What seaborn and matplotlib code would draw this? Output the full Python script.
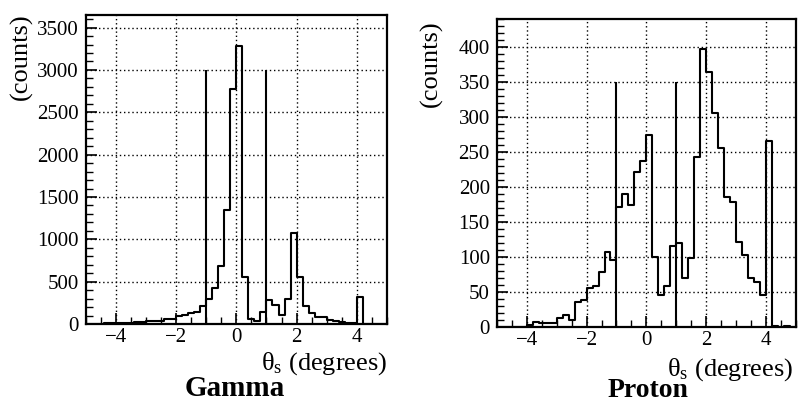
import numpy as np
import pandas as pd
import matplotlib
matplotlib.use("Agg")
import matplotlib.pyplot as plt
import seaborn as sns
from matplotlib.ticker import MultipleLocator

# histogram binning: 50 bins of 0.2 degree between -5 and 5
bin_edges = np.linspace(-5, 5, 51)
bin_centers = (bin_edges[:-1] + bin_edges[1:]) / 2

# counts, left to right
gamma_counts = [5, 3, 5, 8, 10, 12, 15, 15, 18, 20,
                30, 35, 40, 65, 60, 100, 110, 135, 140, 210,
                290, 420, 680, 1350, 2780, 3280, 555, 65, 35, 145,
                283, 224, 106, 290, 1075, 560, 212, 133, 87, 80,
                50, 31, 24, 15, 10, 315, 5, 5, 3, 3]
proton_counts = [0, 0, 0, 0, 0, 3, 7, 6, 6, 5,
                 13, 17, 10, 36, 38, 55, 58, 78, 107, 96,
                 171, 190, 174, 221, 236, 274, 100, 45, 58, 115,
                 119, 70, 98, 243, 396, 364, 305, 255, 186, 178,
                 121, 102, 69, 64, 45, 265, 1, 0, 1, 0]

# cut markers
cut_x = [-1, 1]
gamma_cut_height = 3000
proton_cut_height = 350

sns.set_theme(style="white")
plt.rcParams["font.family"] = ["Liberation Serif", "DejaVu Serif"]
plt.rcParams["mathtext.fontset"] = "custom"
plt.rcParams["mathtext.rm"] = "Liberation Serif"
plt.rcParams["mathtext.it"] = "Liberation Serif:italic"
plt.rcParams["text.color"] = "black"
plt.rcParams["axes.labelcolor"] = "black"

fig = plt.figure(figsize=(8, 4.03), dpi=100)
ax_g = fig.add_axes([0.1075, 0.196, 0.376, 0.767])
ax_p = fig.add_axes([0.621, 0.189, 0.374, 0.765])


def draw_panel(ax, counts, cut_h, ymax, ymajor, yminor):
    df = pd.DataFrame({"theta": bin_centers, "counts": counts})
    sns.histplot(data=df, x="theta", weights="counts", binwidth=0.2, binrange=(-5, 5),
                 element="step", fill=False, color="black", linewidth=1.5, ax=ax)
    ax.vlines(cut_x, 0, cut_h, color="black", linewidth=1.5)
    ax.set_xlim(-5, 5)
    ax.set_ylim(0, ymax)
    ax.xaxis.set_major_locator(MultipleLocator(2))
    ax.xaxis.set_minor_locator(MultipleLocator(0.5))
    ax.yaxis.set_major_locator(MultipleLocator(ymajor))
    ax.yaxis.set_minor_locator(MultipleLocator(yminor))
    ax.grid(True, which="major", color="black", linestyle=(0, (1, 2)), linewidth=1)
    ax.grid(False, which="minor")
    ax.tick_params(which="both", direction="in", bottom=True, left=True,
                   top=False, right=False, colors="black", labelsize=15)
    ax.tick_params(which="major", length=8, width=1.2, pad=5)
    ax.tick_params(axis="x", which="major", pad=3)
    ax.tick_params(which="minor", length=5, width=1)
    for s in ax.spines.values():
        s.set_color("black")
        s.set_linewidth(1.6)
    ax.set_ylabel("(counts)", fontsize=19, loc="top")
    ax.set_xlabel(r"$\mathrm{\theta_s}$ (degrees)", fontsize=19, loc="right")


draw_panel(ax_g, gamma_counts, gamma_cut_height, 3650, 500, 100)
draw_panel(ax_p, proton_counts, proton_cut_height, 440, 50, 10)

ax_g.yaxis.set_label_coords(-0.176, 1.006)
ax_p.yaxis.set_label_coords(-0.18, 0.995)
ax_g.xaxis.set_label_coords(1.0, -0.085)
ax_p.xaxis.set_label_coords(0.991, -0.095)

fig.text(0.294, 0.037, "Gamma", fontsize=21, fontweight="bold", ha="center", va="center")
fig.text(0.81, 0.031, "Proton", fontsize=20, fontweight="bold", ha="center", va="center")

fig.savefig("out.png", dpi=100)
